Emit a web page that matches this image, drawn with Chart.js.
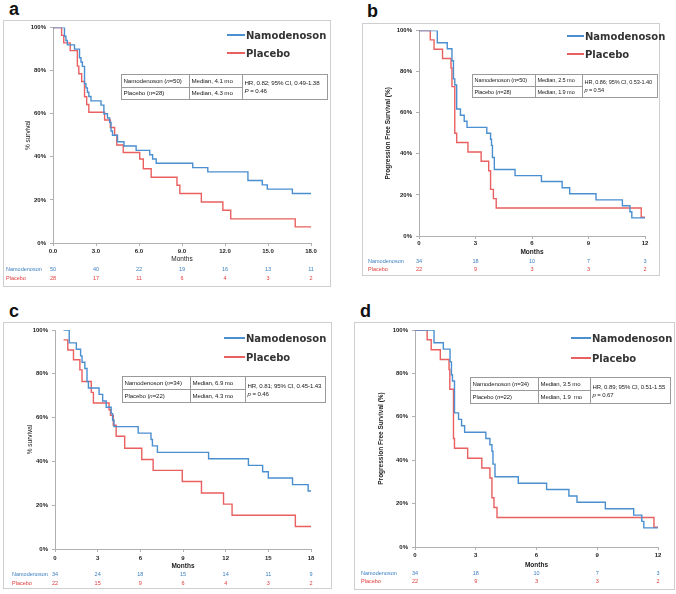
<!DOCTYPE html>
<html>
<head>
<meta charset="utf-8">
<script src="https://cdn.jsdelivr.net/npm/chart.js@4.4.0/dist/chart.umd.min.js"></script>
<style>
body { margin:0; width:676px; height:594px; background:#fff; position:relative; overflow:hidden; font-family:'Liberation Sans', Arial, sans-serif; }
.frame { position:absolute; border:1px solid #cfcfcf; box-sizing:border-box; }
canvas { position:absolute; }
.tag { position:absolute; font:bold 18px 'Liberation Sans', Arial, sans-serif; color:#111; line-height:18px; }
.leg { position:absolute; font:bold 10px 'DejaVu Sans', sans-serif; color:#333; white-space:nowrap; line-height:12px; height:12px; }
.leg span { display:inline-block; height:2px; vertical-align:middle; margin-right:1px; position:relative; top:-1px; }
.stats { position:absolute; border-collapse:collapse; table-layout:fixed; background:#fff; font-family:'Liberation Sans', Arial, sans-serif; color:#1a1a1a; letter-spacing:-0.1px; }
.stats td { border:1px solid #9a9a9a; padding:0 0 0 1.5px; white-space:nowrap; overflow:hidden; line-height:8px; }
</style>
</head>
<body>
<script>
const BLUE = '#4a8fd0';
const RED = '#ea5f5f';

// panel a - overall survival, all patients
const aBlueT = [0, 0.8, 0.9, 1.0, 1.5, 1.85, 1.95, 2.05, 2.2, 2.3, 2.4, 2.5, 2.65, 3.35, 3.55, 3.8, 3.95, 4.05, 4.15, 4.5, 4.95, 5.8, 6.75, 6.95, 7.2, 9.75, 10.8, 13.6, 14.6, 14.95, 16.7, 18];
const aBlueS = [100, 96, 94, 92, 90, 86, 84, 82, 74, 72, 70, 68, 66, 64, 60, 58, 56, 52, 50, 47, 45, 43, 41, 39, 37, 35, 33, 29, 27, 25, 23, 23];
const aRedT = [0, 0.6, 0.75, 1.2, 1.7, 1.8, 2.0, 2.2, 2.35, 2.5, 3.6, 4.0, 4.3, 4.45, 4.9, 6.05, 6.3, 6.85, 8.65, 8.85, 10.35, 11.85, 12.4, 16.9, 18];
const aRedS = [100, 96.4, 92.9, 89.3, 82.1, 78.6, 75, 67.9, 64.3, 60.7, 57.1, 53.6, 50, 45.5, 42, 39, 34.5, 30.5, 26.8, 23, 19, 15.2, 11.2, 7.5, 7.5];
const aTicks = [0, 3, 6, 9, 12, 15, 18];
const aTickLabels = ['0.0', '3.0', '6.0', '9.0', '12.0', '15.0', '18.0'];
const aRiskBlue = [50, 40, 22, 19, 16, 13, 11];
const aRiskRed = [28, 17, 11, 6, 4, 3, 2];

// panel b - progression free survival, all patients
const bBlueT = [0, 0.97, 1.5, 1.75, 1.83, 1.9, 2.0, 2.2, 2.4, 2.55, 3.6, 3.8, 3.85, 3.9, 4.0, 5.1, 6.5, 7.6, 8.0, 9.4, 10.8, 11.2, 11.3, 12];
const bBlueS = [100, 94.1, 91.2, 85.3, 76.5, 73.5, 61.8, 58.8, 55.9, 52.9, 50, 47.1, 44.1, 38.2, 32.4, 29.4, 26.5, 23.5, 20.6, 17.6, 14.7, 11.8, 8.8, 8.8];
const bRedT = [0, 0.6, 0.8, 1.25, 1.7, 1.75, 1.9, 2.0, 2.6, 3.3, 3.7, 3.8, 3.95, 4.1, 11.8, 12];
const bRedS = [100, 95.5, 90.9, 86.4, 81.8, 72.7, 50, 45.5, 40.9, 36.4, 31.8, 22.7, 18.2, 13.6, 9.1, 9.1];
const bTicks = [0, 3, 6, 9, 12];
const bTickLabels = ['0', '3', '6', '9', '12'];
const bRiskBlue = [34, 18, 10, 7, 3];
const bRiskRed = [22, 9, 3, 3, 2];

// panel c - overall survival, Child-Pugh B7
const cBlueT = [0.6, 1.0, 1.5, 1.8, 1.9, 2.1, 2.25, 2.35, 3.1, 3.35, 3.6, 3.95, 4.05, 4.15, 5.85, 6.75, 6.85, 7.2, 10.8, 13.6, 14.6, 15.0, 16.7, 17.8, 18];
const cBlueS = [100, 94.1, 91.2, 88.2, 85.3, 82.4, 76.5, 73.5, 70.6, 67.6, 64.7, 61.8, 58.8, 55.9, 52.9, 50, 47.1, 44.1, 41.2, 38.2, 35.3, 32.4, 29.4, 26.5, 26.5];
const cRedT = [0.6, 0.9, 1.3, 1.75, 1.9, 2.55, 2.7, 3.8, 3.9, 4.1, 4.3, 4.9, 6.1, 6.9, 8.95, 10.3, 11.85, 12.45, 16.9, 18];
const cRedS = [95.5, 90.9, 86.4, 81.8, 76.5, 71.5, 66.7, 63.6, 61, 56.5, 51.5, 46, 40.9, 35.9, 30.8, 25.6, 20.5, 15.4, 10.3, 10.3];
const cTicks = [0, 3, 6, 9, 12, 15, 18];
const cTickLabels = ['0', '3', '6', '9', '12', '15', '18'];
const cRiskBlue = [34, 24, 18, 15, 14, 11, 9];
const cRiskRed = [22, 15, 9, 6, 4, 3, 2];

// panel d - progression free survival, Child-Pugh B7
const dBlueT = [0, 0.94, 1.4, 1.73, 1.8, 1.85, 1.95, 2.15, 2.3, 2.45, 3.5, 3.7, 3.8, 3.85, 3.95, 5.1, 6.5, 7.6, 8.0, 9.4, 10.8, 11.2, 11.3, 12];
const dBlueS = [100, 94.1, 91.2, 85.3, 79.4, 76.5, 61.8, 58.8, 55.9, 52.9, 50, 47.1, 44.1, 38.2, 32.4, 29.4, 26.5, 23.5, 20.6, 17.6, 14.7, 11.8, 8.8, 8.8];
const dRedT = [0, 0.6, 0.8, 1.25, 1.68, 1.72, 1.9, 1.95, 2.6, 3.3, 3.7, 3.8, 3.9, 4.05, 11.8, 12];
const dRedS = [100, 95.5, 90.9, 86.4, 81.8, 72.7, 50, 45.5, 40.9, 36.4, 31.8, 22.7, 18.2, 13.6, 9.1, 9.1];
const dTicks = [0, 3, 6, 9, 12];
const dTickLabels = ['0', '3', '6', '9', '12'];
const dRiskBlue = [34, 18, 10, 7, 3];
const dRiskRed = [22, 9, 3, 3, 2];

const yTicks = [0, 20, 40, 60, 80, 100];

// stats boxes text
const aStats = ['Namodenoson (<i>n</i>=50)', 'Median, 4.1 mo', 'HR, 0.82; 95% CI, 0.49-1.38', '<i>P</i> = 0.46', 'Placebo (<i>n</i>=28)', 'Median, 4.3 mo'];
const bStats = ['Namodenoson (<i>n</i>=50)', 'Median, 2.5 mo', 'HR, 0.86; 95% CI, 0.53-1.40', '<i>p</i> = 0.54', 'Placebo (<i>n</i>=28)', 'Median, 1.9 mo'];
const cStats = ['Namodenoson (<i>n</i>=34)', 'Median, 6.9 mo', 'HR, 0.81; 95% CI, 0.45-1.43', '<i>p</i> = 0.46', 'Placebo (<i>n</i>=22)', 'Median, 4.3 mo'];
const dStats = ['Namodenoson (<i>n</i>=34)', 'Median, 3.5 mo', 'HR, 0.89; 95% CI, 0.51-1.55', '<i>p</i> = 0.67', 'Placebo (<i>n</i>=22)', 'Median, 1.9&nbsp; mo'];

function toXY(t, s) {
    return t.map((x, i) => ({ x: x, y: s[i] }));
}

// draws the numbers-at-risk rows under each x axis
const riskPlugin = {
    id: 'riskTable',
    afterDraw(chart, args, o) {
        const ctx = chart.ctx;
        const xs = chart.scales.x;
        ctx.save();
        ctx.font = '5.5px "Liberation Sans", Arial, sans-serif';
        ctx.textBaseline = 'middle';
        ctx.textAlign = 'left';
        ctx.fillStyle = '#3b7fc0';
        ctx.fillText('Namodenoson', o.labelX, o.rowY[0]);
        ctx.fillStyle = '#e03a3a';
        ctx.fillText('Placebo', o.labelX, o.rowY[1]);
        ctx.textAlign = 'center';
        o.times.forEach((t, i) => {
            const x = xs.getPixelForValue(t);
            ctx.fillStyle = '#3b7fc0';
            ctx.fillText(String(o.blue[i]), x, o.rowY[0]);
            ctx.fillStyle = '#e03a3a';
            ctx.fillText(String(o.red[i]), x, o.rowY[1]);
        });
        ctx.restore();
    }
};

function addDiv(cls, l, t, w, h, html) {
    const d = document.createElement('div');
    d.className = cls;
    d.style.left = l + 'px';
    d.style.top = t + 'px';
    if (w) d.style.width = w + 'px';
    if (h) d.style.height = h + 'px';
    if (html) d.innerHTML = html;
    document.body.appendChild(d);
    return d;
}

function makePanel(p) {
    addDiv('frame', p.fx, p.fy, p.fw, p.fh);
    addDiv('tag', p.tagX, p.tagY, 0, 0, p.tag);

    const cv = document.createElement('canvas');
    cv.width = p.fw;
    cv.height = p.fh;
    cv.style.left = p.fx + 'px';
    cv.style.top = p.fy + 'px';
    document.body.appendChild(cv);

    const yFontSize = p.yTitleSize;
    const yLh = yFontSize * 1.2;
    const mLh = p.mSize * 1.2;

    new Chart(cv, {
        type: 'line',
        data: {
            datasets: [
                { label: 'Namodenoson', data: toXY(p.blueT, p.blueS), borderColor: BLUE, borderWidth: 1.4, stepped: true, pointRadius: 0, fill: false },
                { label: 'Placebo', data: toXY(p.redT, p.redS), borderColor: RED, borderWidth: 1.4, stepped: true, pointRadius: 0, fill: false }
            ]
        },
        options: {
            responsive: false,
            animation: false,
            devicePixelRatio: 1,
            layout: { padding: { left: 0, top: p.top, right: p.right, bottom: 0 } },
            plugins: {
                legend: { display: false },
                tooltip: { enabled: false },
                riskTable: { times: p.ticks, blue: p.riskBlue, red: p.riskRed, labelX: p.riskX, rowY: p.riskY }
            },
            scales: {
                x: {
                    type: 'linear',
                    min: 0,
                    max: p.ticks[p.ticks.length - 1],
                    afterBuildTicks: s => { s.ticks = p.ticks.map(v => ({ value: v })); },
                    afterFit: s => { s.height = p.axisH; },
                    ticks: {
                        autoSkip: false,
                        maxRotation: 0,
                        padding: p.xPad,
                        color: '#222',
                        font: { size: 6, weight: 'bold', family: '"Liberation Sans", Arial, sans-serif' },
                        callback: (v, i) => p.tickLabels[i]
                    },
                    grid: { drawOnChartArea: false, tickLength: 3, color: '#b0b0b0' },
                    border: { color: '#b0b0b0' },
                    title: {
                        display: true,
                        text: 'Months',
                        color: '#222',
                        font: { size: p.mSize, weight: p.mWeight, family: '"Liberation Sans", Arial, sans-serif' },
                        padding: { top: 0, bottom: p.mY - mLh / 2 }
                    }
                },
                y: {
                    min: 0,
                    max: 100,
                    afterBuildTicks: s => { s.ticks = yTicks.map(v => ({ value: v })); },
                    afterFit: s => { s.width = p.left; },
                    ticks: {
                        padding: 4,
                        color: '#222',
                        font: { size: 6, weight: 'bold', family: '"Liberation Sans", Arial, sans-serif' },
                        callback: v => v + '%'
                    },
                    grid: { drawOnChartArea: false, tickLength: 3, color: '#b0b0b0' },
                    border: { color: '#b0b0b0' },
                    title: {
                        display: true,
                        text: p.yTitle,
                        color: '#222',
                        font: { size: yFontSize, weight: p.yTitleWeight, family: '"Liberation Sans", Arial, sans-serif' },
                        padding: { top: p.yTitleX - yLh / 2, bottom: 0 }
                    }
                }
            }
        },
        plugins: [riskPlugin]
    });

    // legend
    addDiv('leg', p.legX, p.legY[0] - 6, 0, 0,
        '<span style="width:' + p.legW + 'px;background:' + BLUE + '"></span>Namodenoson');
    addDiv('leg', p.legX, p.legY[1] - 6, 0, 0,
        '<span style="width:' + p.legW + 'px;background:' + RED + '"></span>Placebo');

    // stats box
    const s = p.stats;
    const b = p.box;
    const rh = (b[3] / 2 - 1).toFixed(1);
    const tbl = document.createElement('table');
    tbl.className = 'stats';
    tbl.style.left = b[0] + 'px';
    tbl.style.top = b[1] + 'px';
    tbl.style.width = b[2] + 'px';
    tbl.style.height = b[3] + 'px';
    tbl.style.fontSize = p.boxFont + 'px';
    tbl.innerHTML =
        '<colgroup><col style="width:' + b[4] + 'px"><col style="width:' + b[5] + 'px"><col></colgroup>' +
        '<tr style="height:' + rh + 'px"><td>' + s[0] + '</td><td>' + s[1] + '</td>' +
        '<td rowspan="2">' + s[2] + '<br>' + s[3] + '</td></tr>' +
        '<tr style="height:' + rh + 'px"><td>' + s[4] + '</td><td>' + s[5] + '</td></tr>';
    document.body.appendChild(tbl);
}

makePanel({
    tag: 'a', tagX: 9, tagY: 0,
    fx: 3, fy: 20, fw: 328, fh: 267,
    left: 50, top: 6, right: 20, axisH: 44, xPad: 2,
    blueT: aBlueT, blueS: aBlueS, redT: aRedT, redS: aRedS,
    ticks: aTicks, tickLabels: aTickLabels,
    riskBlue: aRiskBlue, riskRed: aRiskRed, riskX: 3, riskY: [249, 258],
    yTitle: '% survival', yTitleSize: 6.5, yTitleWeight: 'normal', yTitleX: 25,
    mSize: 6.5, mWeight: 'normal', mY: 28,
    legX: 227, legY: [36, 54], legW: 18,
    stats: aStats, box: [121, 74, 207, 26, 68, 53], boxFont: 6.2
});

makePanel({
    tag: 'b', tagX: 367, tagY: 2,
    fx: 362, fy: 23, fw: 298, fh: 253,
    left: 57, top: 6, right: 15, axisH: 40, xPad: 1,
    blueT: bBlueT, blueS: bBlueS, redT: bRedT, redS: bRedS,
    ticks: bTicks, tickLabels: bTickLabels,
    riskBlue: bRiskBlue, riskRed: bRiskRed, riskX: 6, riskY: [238, 246],
    yTitle: 'Progression Free Survival (%)', yTitleSize: 6.5, yTitleWeight: 'bold', yTitleX: 26,
    mSize: 6.5, mWeight: 'bold', mY: 24,
    legX: 567, legY: [37, 55], legW: 17,
    stats: bStats, box: [472, 74, 186, 24, 63, 47], boxFont: 5.6
});

makePanel({
    tag: 'c', tagX: 9, tagY: 302,
    fx: 3, fy: 322, fw: 329, fh: 267,
    left: 52, top: 8, right: 21, axisH: 40, xPad: 3,
    blueT: cBlueT, blueS: cBlueS, redT: cRedT, redS: cRedS,
    ticks: cTicks, tickLabels: cTickLabels,
    riskBlue: cRiskBlue, riskRed: cRiskRed, riskX: 9, riskY: [252, 261],
    yTitle: '% survival', yTitleSize: 6.5, yTitleWeight: 'normal', yTitleX: 27,
    mSize: 6.5, mWeight: 'bold', mY: 23,
    legX: 224, legY: [339, 358], legW: 21,
    stats: cStats, box: [122, 376, 204, 27, 68, 55], boxFont: 6.1
});

makePanel({
    tag: 'd', tagX: 360, tagY: 302,
    fx: 354, fy: 322, fw: 321, fh: 268,
    left: 61, top: 8, right: 17, axisH: 43, xPad: 2,
    blueT: dBlueT, blueS: dBlueS, redT: dRedT, redS: dRedS,
    ticks: dTicks, tickLabels: dTickLabels,
    riskBlue: dRiskBlue, riskRed: dRiskRed, riskX: 7, riskY: [251, 259],
    yTitle: 'Progression Free Survival (%)', yTitleSize: 6.5, yTitleWeight: 'bold', yTitleX: 27,
    mSize: 6.5, mWeight: 'bold', mY: 25,
    legX: 571, legY: [339, 359], legW: 20,
    stats: dStats, box: [470, 377, 201, 27, 68, 52], boxFont: 6.0
});
</script>
</body>
</html>
